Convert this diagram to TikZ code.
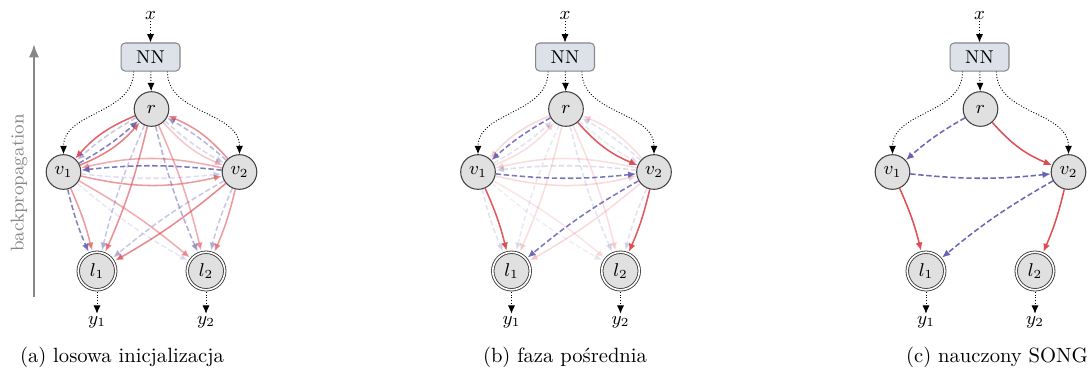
\documentclass[tikz,border=0pt]{standalone}
\usepackage{fontspec}
\usetikzlibrary{arrows.meta}
\definecolor{songred}{RGB}{222,72,78}
\definecolor{songblue}{RGB}{100,96,176}
\definecolor{nodefill}{RGB}{224,224,224}
\definecolor{nnfill}{RGB}{221,225,234}
\definecolor{nnborder}{RGB}{135,135,140}
\definecolor{bpgray}{RGB}{135,135,135}
\tikzset{
  vnode/.style={circle,draw=black!75,fill=nodefill,minimum size=16.8pt,inner sep=0pt,font=\small,line width=0.5pt},
  lnode/.style={circle,draw=black!80,fill=nodefill,minimum size=18.2pt,inner sep=0pt,font=\small,line width=0.4pt,double=white,double distance=0.8pt,outer sep=1pt},
  nnbox/.style={rectangle,rounded corners=2pt,draw=nnborder,fill=nnfill,minimum width=28.6pt,minimum height=13.6pt,inner sep=0pt,font=\small,line width=0.5pt},
  lbl/.style={inner sep=1pt,font=\small},
  dotc/.style={line width=0.45pt,dash pattern=on 0.45pt off 0.9pt,-{Latex[length=4pt,width=3.4pt]}},
  redge/.style={draw=songred,line width=0.75pt,-{Latex[length=4pt,width=3.4pt]}},
  bedge/.style={draw=songblue,line width=0.75pt,dash pattern=on 2.6pt off 1.3pt,-{Latex[length=4pt,width=3.4pt]}},
}
\newcommand{\songnodes}[2]{%
  \node[lbl] (#1x) at (#2-1,15) {$x$};
  \node[nnbox] (#1NN) at (#2-1,57) {NN};
  \node[vnode] (#1r) at (#2,109) {$r$};
  \node[vnode] (#1v1) at (#2-88,172) {$v_1$};
  \node[vnode] (#1v2) at (#2+88,172) {$v_2$};
  \node[lnode] (#1l1) at (#2-54.5,271) {$l_1$};
  \node[lnode] (#1l2) at (#2+54.5,271) {$l_2$};
  \node[lbl] (#1y1) at (#2-54.5,322) {$y_1$};
  \node[lbl] (#1y2) at (#2+54.5,322) {$y_2$};
  \draw[dotc] (#1x) -- (#1NN);
  \draw[dotc] (#1NN) -- (#1r);
  \draw[dotc] ([xshift=-8.2pt]#1NN.south) to[out=-90,in=90] (#1v1);
  \draw[dotc] ([xshift=8.2pt]#1NN.south) to[out=-90,in=90] (#1v2);
  \draw[dotc] (#1l1) -- (#1y1);
  \draw[dotc] (#1l2) -- (#1y2);
}
\newcommand{\songRin}[2]{\foreach \s/\t/\o in {#2}{\draw[redge,opacity=\o] (#1\s) to[bend right=13] (#1\t);}}
\newcommand{\songRlf}[2]{\foreach \s/\t/\o in {#2}{\draw[redge,opacity=\o] (#1\s) to[bend left=5] (#1\t);}}
\newcommand{\songBin}[2]{\foreach \s/\t/\o in {#2}{\draw[bedge,opacity=\o] (#1\s) to[bend right=6] (#1\t);}}
\newcommand{\songBlf}[2]{\foreach \s/\t/\o in {#2}{\draw[bedge,opacity=\o] (#1\s) to[bend right=5] (#1\t);}}
\begin{document}
\begin{tikzpicture}[x=0.485pt,y=-0.485pt]
\useasboundingbox (0,0) rectangle (1090,372);
% backpropagation arrow
\coordinate (bpbot) at (34,297);
\coordinate (bptop) at (34,44);
\draw[bpgray,line width=1.1pt,-{Latex[length=6.5pt,width=5pt]}] (bpbot) -- (bptop);
\node[rotate=90,text=bpgray,font=\small] (bptext) at (19,183) {backpropagation};
% panel (a)
\songnodes{a}{151.5}
\songRin{a}{r/v1/0.85, v1/r/0.7, r/v2/0.3, v2/r/0.6, v1/v2/0.55, v2/v1/0.45}
\songRlf{a}{r/l1/0.6, r/l2/0.45, v1/l1/0.55, v1/l2/0.45, v2/l1/0.65, v2/l2/0.55}
\songBin{a}{r/v1/0.35, v1/r/0.8, r/v2/0.25, v2/r/0.45, v1/v2/0.2, v2/v1/0.85}
\songBlf{a}{r/l1/0.35, r/l2/0.5, v1/l1/0.8, v1/l2/0.15, v2/l1/0.35, v2/l2/0.35}
% panel (b)
\songnodes{b}{566}
\songRin{b}{r/v1/0.22, v1/r/0.18, r/v2/0.9, v2/r/0.18, v1/v2/0.2, v2/v1/0.18}
\songRlf{b}{r/l1/0.18, r/l2/0.18, v1/l1/0.9, v1/l2/0.14, v2/l1/0.2, v2/l2/0.9}
\songBin{b}{r/v1/0.85, v1/r/0.18, r/v2/0.14, v2/r/0.18, v1/v2/0.85, v2/v1/0.22}
\songBlf{b}{r/l1/0.14, r/l2/0.18, v1/l1/0.18, v1/l2/0.1, v2/l1/0.85, v2/l2/0.18}
% panel (c)
\songnodes{c}{980.5}
\songRin{c}{r/v2/0.95}
\songRlf{c}{v1/l1/0.95, v2/l2/0.95}
\songBin{c}{r/v1/0.95, v1/v2/0.95}
\songBlf{c}{v2/l1/0.95}
% captions
\node (capa) at (122,357) {(a) losowa inicjalizacja};
\node (capb) at (565,357) {(b) faza pośrednia};
\node (capc) at (997,357) {(c) nauczony SONG};
\end{tikzpicture}
\end{document}
